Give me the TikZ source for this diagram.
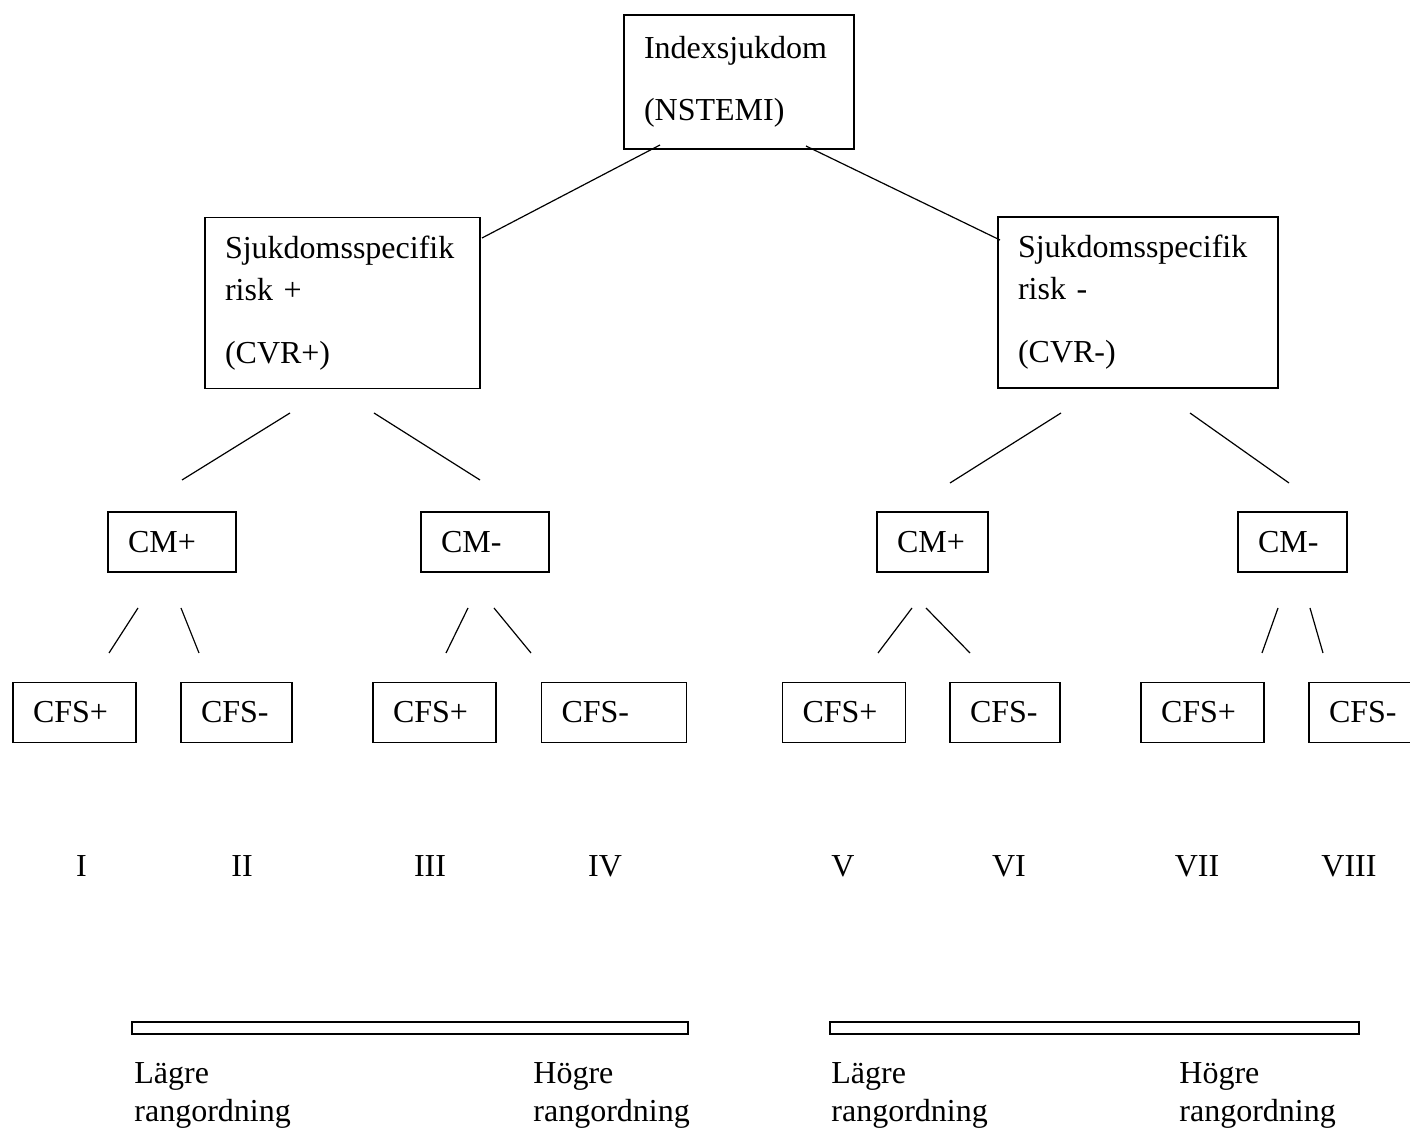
\documentclass[tikz,border=0pt]{standalone}
\usepackage{fontspec}
\setmainfont{Liberation Serif}

\tikzset{
  box/.style={draw, line width=0.65pt, align=left, inner xsep=10pt, inner ysep=0pt, text width=#1},
  leaf/.style={box=#1, minimum height=30pt},
  link/.style={line width=0.6pt},
  bar/.style={draw, line width=0.65pt, inner sep=0pt, minimum height=6pt},
  rank/.style={align=left, anchor=base west, inner sep=0pt,
    font=\fontsize{16}{19.5}\selectfont},
  group/.style={anchor=base, inner sep=0pt}
}

\begin{document}
\begin{tikzpicture}[x=0.5pt, y=-0.5pt, font=\fontsize{16}{21}\selectfont]
        \useasboundingbox (0,0) rectangle (1410,1133);

        \node[box=95pt, minimum height=67pt]     (index) at (739,82)      {Indexsjukdom\\[10pt](NSTEMI)};
        \node[box=117.5pt, minimum height=85.5pt] (cvrp) at (342.5,303)   {Sjukdomsspecifik\\risk +\\[10.5pt](CVR+)};
        \node[box=120pt, minimum height=85.5pt]   (cvrm) at (1138,302.5)  {Sjukdomsspecifik\\risk -\\[10.5pt](CVR-)};

        \node[leaf=44pt]   (cmpl) at (172,542)    {CM+};
        \node[leaf=44pt]   (cmml) at (485,542)    {CM-};
        \node[leaf=35.5pt] (cmpr) at (932.5,542)  {CM+};
        \node[leaf=34.5pt] (cmmr) at (1292.5,542) {CM-};

        \node[leaf=41.5pt] (cfs1) at (74.5,712.5)   {CFS+};
        \node[leaf=35.5pt] (cfs2) at (236.5,712.5)  {CFS-};
        \node[leaf=41.5pt] (cfs3) at (434.5,712.5)  {CFS+};
        \node[leaf=52.5pt] (cfs4) at (614,712.5)    {CFS-};
        \node[leaf=41.5pt] (cfs5) at (844,712.5)    {CFS+};
        \node[leaf=35pt]   (cfs6) at (1005,712.5)   {CFS-};
        \node[leaf=41.5pt] (cfs7) at (1202.5,712.5) {CFS+};
        \node[leaf=35pt]   (cfs8) at (1364,712.5)   {CFS-};

        % free-standing connector ends
        \coordinate (ia1) at (660,145);  \coordinate (ia2) at (482,238);
        \coordinate (ib1) at (806,146);  \coordinate (ib2) at (1000,240);
        \coordinate (pa1) at (290,413);  \coordinate (pa2) at (182,480);
        \coordinate (pb1) at (374,413);  \coordinate (pb2) at (480,480);
        \coordinate (ma1) at (1061,413); \coordinate (ma2) at (950,483);
        \coordinate (mb1) at (1190,413); \coordinate (mb2) at (1289,483);
        \coordinate (la1) at (138,608);  \coordinate (la2) at (109,653);
        \coordinate (lb1) at (181,608);  \coordinate (lb2) at (199,653);
        \coordinate (lc1) at (468,608);  \coordinate (lc2) at (446,653);
        \coordinate (ld1) at (494,608);  \coordinate (ld2) at (531,653);
        \coordinate (ra1) at (912,608);  \coordinate (ra2) at (878,653);
        \coordinate (rb1) at (926,608);  \coordinate (rb2) at (970,653);
        \coordinate (rc1) at (1278,608); \coordinate (rc2) at (1262,653);
        \coordinate (rd1) at (1310,608); \coordinate (rd2) at (1323,653);

        \draw[link] (ia1) -- (ia2);
        \draw[link] (ib1) -- (ib2);
        \draw[link] (pa1) -- (pa2);
        \draw[link] (pb1) -- (pb2);
        \draw[link] (ma1) -- (ma2);
        \draw[link] (mb1) -- (mb2);
        \draw[link] (la1) -- (la2);
        \draw[link] (lb1) -- (lb2);
        \draw[link] (lc1) -- (lc2);
        \draw[link] (ld1) -- (ld2);
        \draw[link] (ra1) -- (ra2);
        \draw[link] (rb1) -- (rb2);
        \draw[link] (rc1) -- (rc2);
        \draw[link] (rd1) -- (rd2);

        \foreach \x/\t [count=\i] in {81.5/I, 242/II, 430/III, 605/IV, 843/V, 1009/VI, 1197/VII, 1349/VIII}
          \node[group] (grp\i) at (\x,877) {\t};

        \node[bar, minimum width=278pt]   (leftbar)  at (410,1028)    {};
        \node[bar, minimum width=264.5pt] (rightbar) at (1094.5,1028) {};

        % anchored at the baseline of the second line
        \node[rank] (lowl)  at (134,1122)  {Lägre\\rangordning};
        \node[rank] (highl) at (533,1122)  {Högre\\rangordning};
        \node[rank] (lowr)  at (831,1122)  {Lägre\\rangordning};
        \node[rank] (highr) at (1179,1122) {Högre\\rangordning};
      \end{tikzpicture}
\end{document}
